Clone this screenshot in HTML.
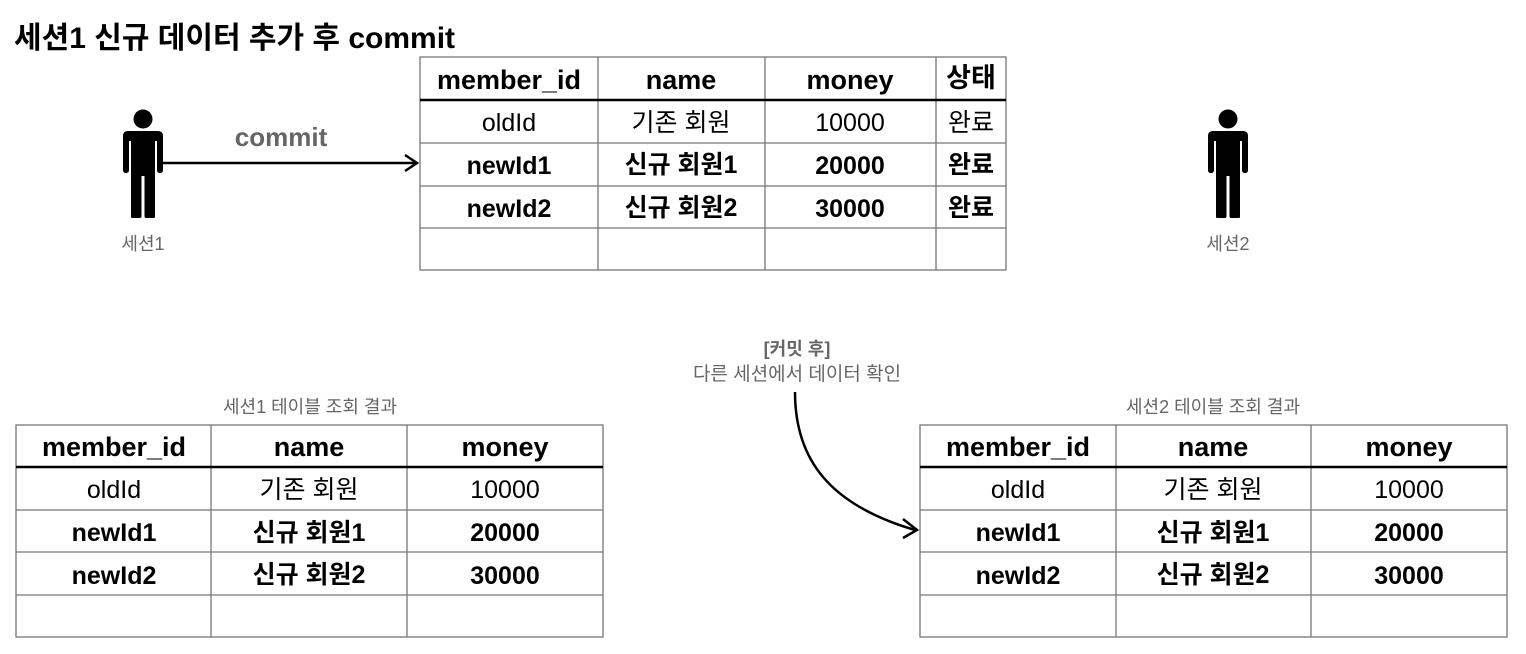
<!DOCTYPE html>
<html><head><meta charset="utf-8"><style>
html,body{margin:0;padding:0;background:#fff;}
svg{display:block;}
text{font-family:"Liberation Sans","Noto Sans CJK KR",sans-serif;}
.h{font-size:27px;font-weight:bold;fill:#000;text-anchor:middle;}
.n{font-size:25px;fill:#000;text-anchor:middle;}
.b{font-size:25px;font-weight:bold;fill:#000;text-anchor:middle;}
.g{font-size:18px;fill:#666;text-anchor:middle;}
.t{stroke:#777;stroke-width:1.3;fill:none;}
.th{stroke:#000;stroke-width:2.5;}
</style></head><body>
<svg width="1526" height="654" viewBox="0 0 1526 654" xmlns="http://www.w3.org/2000/svg">
<defs>
<g id="person">
<circle cx="0" cy="0" r="9.5" fill="#000"/>
<path d="M-15,12 H15 Q20,12 20,17 V51 Q20,54 17,54 Q14,54 14,51 V22 H12 V98 Q12,99 10,99 H3 Q1.5,99 1.5,97 V57 H-1.5 V97 Q-1.5,99 -3,99 H-10 Q-12,99 -12,98 V22 H-14 V51 Q-14,54 -17,54 Q-20,54 -20,51 V17 Q-20,12 -15,12 Z" fill="#000"/>
</g>
</defs>

<text x="14" y="48" style="font-size:30px;font-weight:bold;fill:#000;">세션1 신규 데이터 추가 후 commit</text>

<use href="#person" x="143" y="119"/>
<text x="143" y="250" class="g">세션1</text>
<use href="#person" x="1228" y="119"/>
<text x="1228" y="250" class="g">세션2</text>

<line x1="157" y1="163" x2="416" y2="163" stroke="#000" stroke-width="2.5"/>
<path d="M405,155 L417,163 L405,171" fill="none" stroke="#000" stroke-width="2.5"/>
<text x="281" y="146" style="font-size:26px;font-weight:bold;fill:#666;text-anchor:middle;">commit</text>

<rect x="420" y="57" width="586" height="213" class="t"/>
<line x1="598" y1="57" x2="598" y2="270" class="t"/>
<line x1="765" y1="57" x2="765" y2="270" class="t"/>
<line x1="936" y1="57" x2="936" y2="270" class="t"/>
<line x1="420" y1="100" x2="1006" y2="100" class="th"/>
<line x1="420" y1="143" x2="1006" y2="143" class="t"/>
<line x1="420" y1="186" x2="1006" y2="186" class="t"/>
<line x1="420" y1="228" x2="1006" y2="228" class="t"/>
<text x="509" y="89" class="h">member_id</text>
<text x="681" y="89" class="h">name</text>
<text x="850" y="89" class="h">money</text>
<text x="971" y="87" class="h">상태</text>
<text x="509" y="131" class="n">oldId</text>
<text x="681" y="131" class="n">기존 회원</text>
<text x="850" y="131" class="n">10000</text>
<text x="971" y="131" class="n">완료</text>
<text x="509" y="174" class="b">newId1</text>
<text x="681" y="173" class="b">신규 회원1</text>
<text x="850" y="174" class="b">20000</text>
<text x="971" y="173" class="b">완료</text>
<text x="509" y="217" class="b">newId2</text>
<text x="681" y="216" class="b">신규 회원2</text>
<text x="850" y="217" class="b">30000</text>
<text x="971" y="216" class="b">완료</text>

<text x="797" y="355" style="font-size:18px;font-weight:bold;fill:#666;text-anchor:middle;">[커밋 후]</text>
<text x="797" y="380" style="font-size:19px;fill:#666;text-anchor:middle;">다른 세션에서 데이터 확인</text>
<path d="M795,392 C795,460 830,505 915,530" fill="none" stroke="#000" stroke-width="2.5"/>
<path d="M903,519 L917,530 L903,538" fill="none" stroke="#000" stroke-width="2.5"/>

<text x="310" y="413" class="g">세션1 테이블 조회 결과</text>
<rect x="16" y="425" width="587" height="212" class="t"/>
<line x1="211" y1="425" x2="211" y2="637" class="t"/>
<line x1="407" y1="425" x2="407" y2="637" class="t"/>
<line x1="16" y1="467" x2="603" y2="467" class="th"/>
<line x1="16" y1="510" x2="603" y2="510" class="t"/>
<line x1="16" y1="552" x2="603" y2="552" class="t"/>
<line x1="16" y1="595" x2="603" y2="595" class="t"/>
<text x="114" y="456" class="h">member_id</text>
<text x="309" y="456" class="h">name</text>
<text x="505" y="456" class="h">money</text>
<text x="114" y="498" class="n">oldId</text>
<text x="309" y="498" class="n">기존 회원</text>
<text x="505" y="498" class="n">10000</text>
<text x="114" y="541" class="b">newId1</text>
<text x="309" y="541" class="b">신규 회원1</text>
<text x="505" y="541" class="b">20000</text>
<text x="114" y="584" class="b">newId2</text>
<text x="309" y="583" class="b">신규 회원2</text>
<text x="505" y="584" class="b">30000</text>

<text x="1213" y="413" class="g">세션2 테이블 조회 결과</text>
<rect x="920" y="425" width="587" height="212" class="t"/>
<line x1="1116" y1="425" x2="1116" y2="637" class="t"/>
<line x1="1311" y1="425" x2="1311" y2="637" class="t"/>
<line x1="920" y1="467" x2="1507" y2="467" class="th"/>
<line x1="920" y1="510" x2="1507" y2="510" class="t"/>
<line x1="920" y1="552" x2="1507" y2="552" class="t"/>
<line x1="920" y1="595" x2="1507" y2="595" class="t"/>
<text x="1018" y="456" class="h">member_id</text>
<text x="1213" y="456" class="h">name</text>
<text x="1409" y="456" class="h">money</text>
<text x="1018" y="498" class="n">oldId</text>
<text x="1213" y="498" class="n">기존 회원</text>
<text x="1409" y="498" class="n">10000</text>
<text x="1018" y="541" class="b">newId1</text>
<text x="1213" y="541" class="b">신규 회원1</text>
<text x="1409" y="541" class="b">20000</text>
<text x="1018" y="584" class="b">newId2</text>
<text x="1213" y="583" class="b">신규 회원2</text>
<text x="1409" y="584" class="b">30000</text>
</svg>
</body></html>
